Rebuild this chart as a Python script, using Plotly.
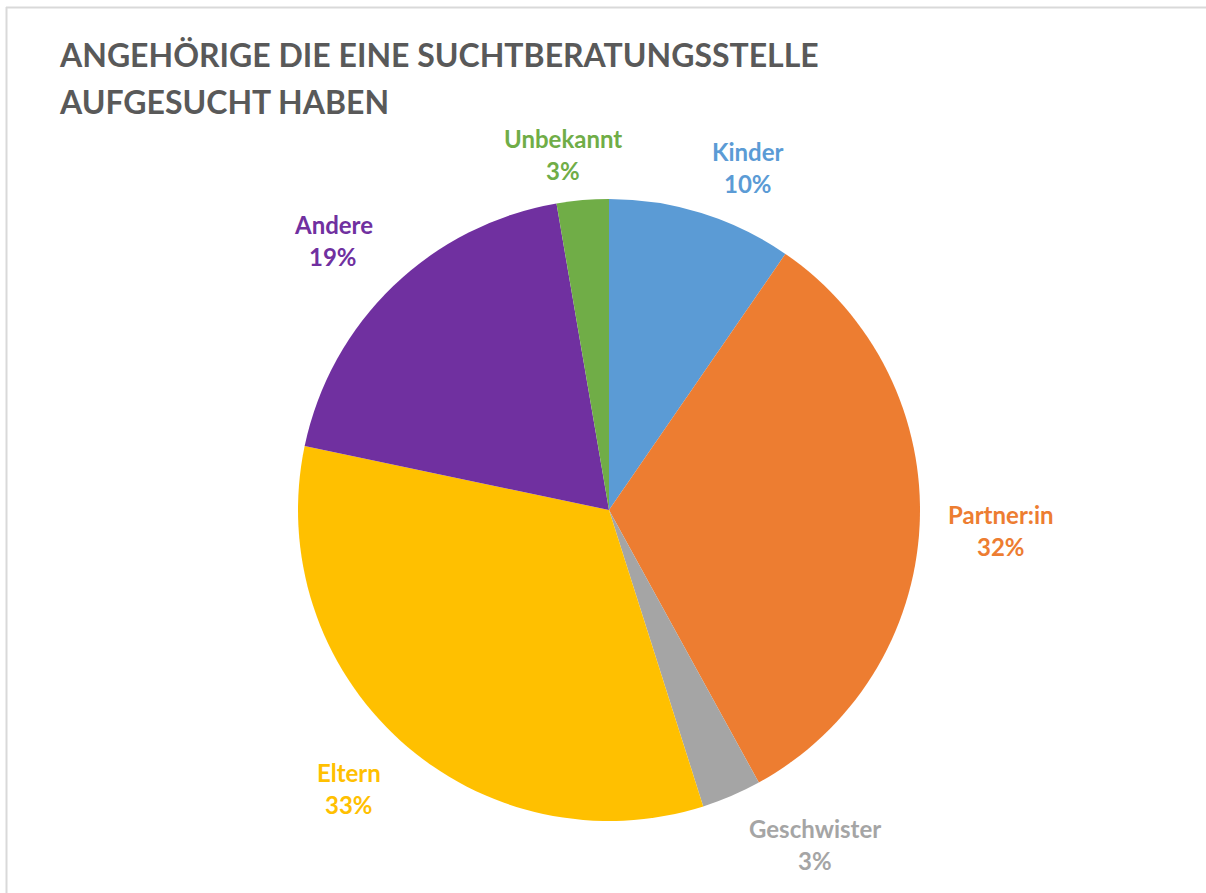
import math
import plotly.graph_objects as go

categories = ["Kinder", "Partner:in", "Geschwister", "Eltern", "Andere", "Unbekannt"]
values = [9.6, 32.4, 3.1, 33.2, 19.0, 2.7]
colors = ["#5B9BD5", "#ED7D31", "#A5A5A5", "#FFC000", "#7030A0", "#70AD47"]
title_lines = ["ANGEHÖRIGE DIE EINE SUCHTBERATUNGSSTELLE", "AUFGESUCHT HABEN"]

W, H = 1206, 893
cx, cy, R = 609, 510, 311  # pixel centre/radius of the pie

# small pixel nudges (right, down) for label placement (Excel best-fit style)
nudge = [(28, 14), (19, 2), (59, -8), (-10, 2), (-17, -1), (-14, 16)]
label_r = 1.2 * R
half_gap = 16

fig = go.Figure()
fig.add_trace(go.Pie(
    labels=categories, values=values, sort=False, direction="clockwise",
    rotation=0, marker=dict(colors=colors, line=dict(width=0)),
    textinfo="none", hoverinfo="label+percent", showlegend=False,
    domain=dict(x=[(cx - R) / W, (cx + R) / W],
                y=[(H - cy - R) / H, (H - cy + R) / H]),
))

total = sum(values)
annotations = []
cum = 0.0
for i, (cat, v) in enumerate(zip(categories, values)):
    mid = (cum + v / 2) / total * 2 * math.pi
    cum += v
    dx = label_r * math.sin(mid) + nudge[i][0]
    dy = label_r * math.cos(mid) - nudge[i][1]
    pct = round(v / total * 100)
    for txt, off in ((cat, half_gap), (f"{pct}%", -half_gap)):
        annotations.append(dict(
            x=cx / W, y=(H - cy) / H, xref="paper", yref="paper",
            xshift=dx, yshift=dy + off, showarrow=False,
            text=f"<b>{txt}</b>", align="center",
            font=dict(family="Lato", size=24, color=colors[i]),
        ))

for j, line in enumerate(title_lines):
    annotations.append(dict(
        x=57 / W, y=1 - (55 + 46 * j) / H, xref="paper", yref="paper",
        xanchor="left", yanchor="middle", showarrow=False, align="left",
        text=f"<b>{line}</b>",
        font=dict(family="Lato", size=32, color="#595959"),
    ))

fig.update_layout(
    width=W, height=H, margin=dict(l=0, r=0, t=0, b=0),
    paper_bgcolor="white", plot_bgcolor="white",
    annotations=annotations,
    shapes=[
        dict(type="line", xref="paper", yref="paper",
             x0=6 / W, x1=1, y0=1 - 7.5 / H, y1=1 - 7.5 / H,
             line=dict(color="#D9D9D9", width=2)),
        dict(type="line", xref="paper", yref="paper",
             x0=6.5 / W, x1=6.5 / W, y0=0, y1=1 - 7 / H,
             line=dict(color="#D9D9D9", width=2)),
    ],
)

fig.write_html(
    "out.html",
    config={"displayModeBar": False},
    post_script="document.body.style.margin='0';document.body.style.overflow='hidden';",
)
